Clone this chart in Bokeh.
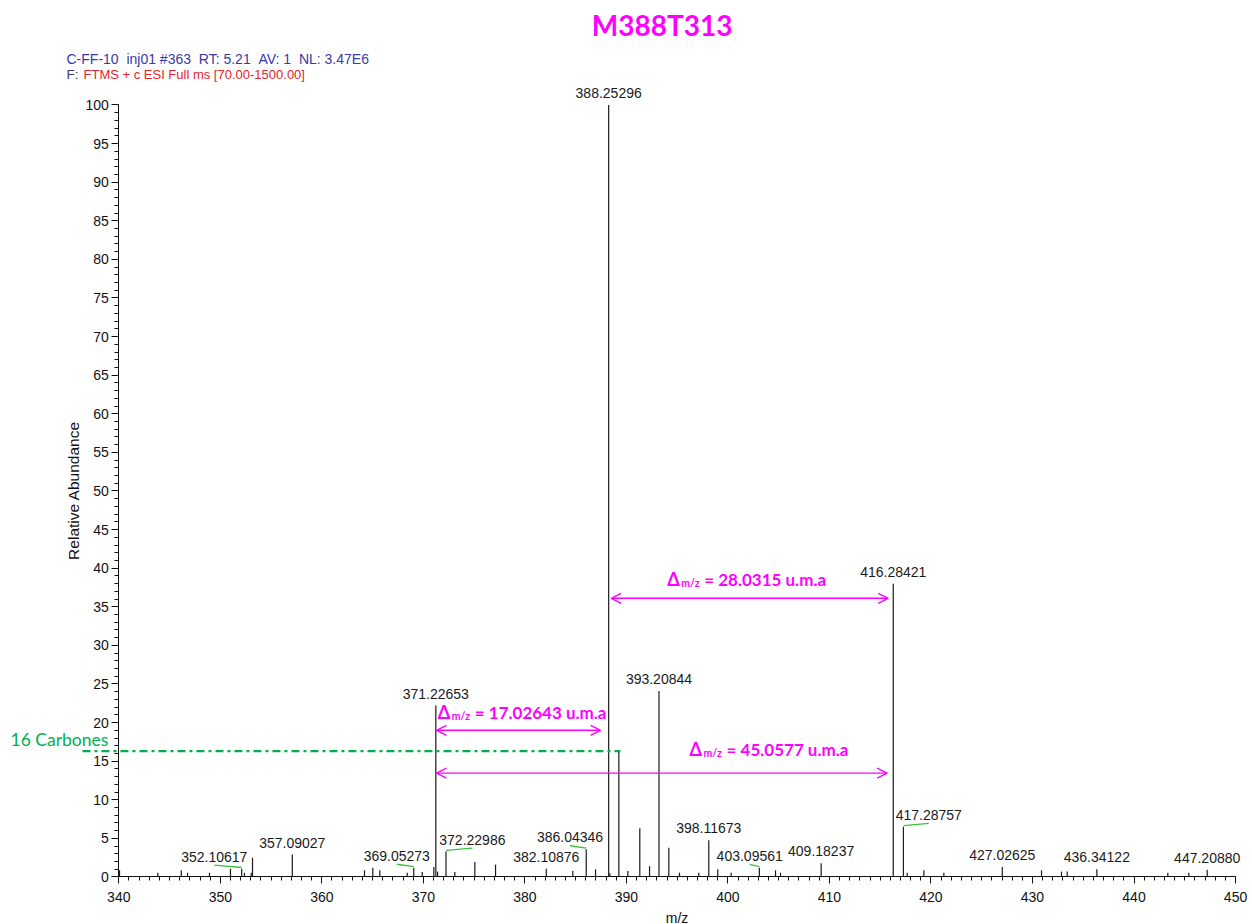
from bokeh.plotting import figure
from bokeh.models import (Range1d, SingleIntervalTicker, Label, LabelSet,
                          ColumnDataSource, Arrow, OpenHead)
from bokeh.core.properties import value
from bokeh.embed import file_html
from bokeh.resources import INLINE

# ---------------- data ----------------
NB2 = "\u00a0\u00a0"
title_text = "M388T313"
header_line1 = "C-FF-10" + NB2 + "inj01 #363" + NB2 + "RT: 5.21" + NB2 + "AV: 1" + NB2 + "NL: 3.47E6"
header_f = "F:"
header_line2 = "FTMS + c ESI Full ms [70.00-1500.00]"
x_label = "m/z"
y_label = "Relative Abundance"
carbon_text = "16 Carbones"

labeled_mz = [352.10617, 357.09027, 369.05273, 371.22653, 372.22986, 382.10876,
              386.04346, 388.25296, 393.20844, 398.11673, 403.09561, 409.18237,
              416.28421, 417.28757, 427.02625, 436.34122, 447.20880]
labeled_int = [1.08, 2.9, 1.2, 22.2, 3.3, 1.08, 3.6, 100.0, 24.1, 4.75, 1.2, 1.77,
               38.0, 6.5, 1.3, 1.0, 0.95]

minor_mz = [340.07, 343.84, 346.15, 346.77, 348.93, 351.0, 352.38, 353.04, 353.17,
            364.2, 365.02, 365.71, 368.41, 369.89, 371.03, 371.4, 373.1, 375.07,
            377.11, 384.72, 386.96, 388.37, 389.25631, 390.14, 391.32, 392.28,
            394.18, 395.23, 397.13, 399.0, 400.32, 404.69, 405.18, 417.66, 419.3,
            421.27, 430.89, 432.86, 433.42, 443.33, 445.4]
minor_int = [0.87, 0.56, 0.87, 0.56, 0.56, 1.08, 0.56, 0.56, 2.5,
             0.87, 1.2, 0.87, 0.56, 0.65, 1.3, 0.7, 0.65, 1.95,
             1.6, 0.78, 1.0, 0.5, 16.3, 0.78, 6.3, 1.4,
             3.8, 0.56, 0.56, 1.0, 0.56, 0.87, 0.56, 0.56, 0.87,
             0.56, 0.87, 0.7, 0.7, 0.56, 0.56]

delta_from = [388.25296, 371.22653, 371.22653]
delta_to = [416.28421, 388.25296, 416.28421]
delta_text = ["28.0315", "17.02643", "45.0577"]
carbon_peak = 389.25631
carbon_level = 16.3

x_axis_span = (340, 450)
y_axis_span = (0, 100)

# ---------------- layout / style ----------------
label_shift = [-2.7, 0, -1.67, 0, 2.6, 0, -1.6, 0, 0, 0, -0.95, 0, 0, 2.5, 0, 0, 0]
arrow_y = [36.1, 19.0, 13.45]
arrow_gap_start = [0.25, 0.07, 0.07]
arrow_gap_end = [0.5, 0.8, 0.6]
dtext_x = [394.02, 371.42, 396.22]
dtext_y = [38.55, 21.35, 16.55]
carbon_line_start = 336.42

W, H = 1252, 924
FONT = "Liberation Sans"
MAG = "#ff00ff"
GREEN = "#00b050"

# frame covers the whole canvas; axes are pinned at m/z 340 and intensity 0
p = figure(width=W, height=H,
           x_range=Range1d(328.347, 451.672), y_range=Range1d(-6.153, 113.536),
           output_backend="svg", toolbar_location=None,
           min_border_left=0, min_border_top=0, min_border_right=0, min_border_bottom=0)
p.outline_line_color = None
p.grid.visible = False
p.background_fill_color = "white"
p.border_fill_color = "white"

p.xaxis.fixed_location = y_axis_span[0]
p.yaxis.fixed_location = x_axis_span[0]
p.xaxis.bounds = x_axis_span
p.yaxis.bounds = y_axis_span
p.xaxis.ticker = SingleIntervalTicker(interval=10, num_minor_ticks=10)
p.yaxis.ticker = SingleIntervalTicker(interval=5, num_minor_ticks=5)
for ax in (p.xaxis, p.yaxis):
    ax.axis_line_color = "#111111"
    ax.major_tick_line_color = "#111111"
    ax.minor_tick_line_color = "#111111"
    ax.major_tick_in = 0
    ax.minor_tick_in = 0
    ax.major_tick_out = 7
    ax.minor_tick_out = 4
    ax.major_label_text_font = FONT
    ax.major_label_text_font_size = "14px"
    ax.major_label_text_color = "#111111"
    ax.axis_label_text_font = FONT
    ax.axis_label_text_font_style = "normal"
    ax.axis_label_text_color = "#111111"
p.xaxis.major_label_standoff = 8
p.yaxis.major_label_standoff = 3
p.xaxis.axis_label = x_label
p.xaxis.axis_label_text_font_size = "14px"
p.xaxis.axis_label_standoff = 5
p.yaxis.axis_label = y_label
p.yaxis.axis_label_text_font_size = "15.5px"
p.yaxis.axis_label_standoff = 0

# peaks
p.segment(x0=minor_mz, y0=[0] * len(minor_mz), x1=minor_mz, y1=minor_int,
          line_color="#1a1a1a", line_width=1.2)
p.segment(x0=labeled_mz, y0=[0] * len(labeled_mz), x1=labeled_mz, y1=labeled_int,
          line_color="#1a1a1a", line_width=1.2)

# connectors for displaced labels
cx0, cy0, cx1, cy1 = [], [], [], []
for mz, h, s in zip(labeled_mz, labeled_int, label_shift):
    if s != 0:
        cx0.append(mz); cy0.append(h + 0.15)
        cx1.append(mz + s); cy1.append(h + 0.45)
p.segment(x0=cx0, y0=cy0, x1=cx1, y1=cy1, line_color="#3cc03c", line_width=1.3)

src = ColumnDataSource(dict(
    x=[m + s for m, s in zip(labeled_mz, label_shift)],
    y=labeled_int,
    t=[f"{m:.5f}" for m in labeled_mz],
))
p.add_layout(LabelSet(x="x", y="y", text="t", source=src, y_offset=7,
                      text_align="center", text_baseline="alphabetic",
                      text_font=value(FONT), text_font_size=value("14px"),
                      text_color="#1a1a1a"))

# green 16 carbones line
p.segment(x0=[carbon_line_start], y0=[carbon_level], x1=[carbon_peak + 0.15],
          y1=[carbon_level], line_color=GREEN, line_width=2.2, line_dash="8 4 3 4")
p.add_layout(Label(x=10, y=185, x_units="screen", y_units="screen",
                   text=carbon_text, text_font="Lato", text_font_size="17.5px",
                   text_color=GREEN, text_baseline="alphabetic"))

# delta arrows & texts
for a, b, yy, g0, g1 in zip(delta_from, delta_to, arrow_y, arrow_gap_start, arrow_gap_end):
    p.add_layout(Arrow(start=OpenHead(size=10, line_color=MAG, line_width=1.4),
                       end=OpenHead(size=10, line_color=MAG, line_width=1.4),
                       x_start=a + g0, y_start=yy, x_end=b - g1, y_end=yy,
                       line_color=MAG, line_width=1.4))
for tx, ty, val in zip(dtext_x, dtext_y, delta_text):
    p.add_layout(Label(x=tx, y=ty, text="\u0394", text_font="Lato",
                       text_font_style="bold", text_font_size="18px",
                       text_color=MAG, text_baseline="alphabetic"))
    p.add_layout(Label(x=tx, y=ty, x_offset=14, y_offset=-4, text="m/z",
                       text_font="Lato", text_font_style="bold",
                       text_font_size="10.5px", text_color=MAG,
                       text_baseline="alphabetic"))
    p.add_layout(Label(x=tx, y=ty, x_offset=37, text=f"= {val} u.m.a",
                       text_font="Lato", text_font_style="bold",
                       text_font_size="17px", text_color=MAG,
                       text_baseline="alphabetic"))

# title & header
p.add_layout(Label(x=661.7, y=899.5, x_units="screen", y_units="screen",
                   text=title_text, text_font="Lato", text_font_style="bold",
                   text_font_size="28px", text_color=MAG, text_align="center",
                   text_baseline="alphabetic"))
p.add_layout(Label(x=66, y=866, x_units="screen", y_units="screen",
                   text=header_line1, text_font=FONT, text_font_size="14px",
                   text_color="#3a3aa6", text_baseline="alphabetic"))
p.add_layout(Label(x=66, y=850.5, x_units="screen", y_units="screen",
                   text=header_f, text_font=FONT, text_font_size="13.5px",
                   text_color="#3a3a60", text_baseline="alphabetic"))
p.add_layout(Label(x=83, y=850.5, x_units="screen", y_units="screen",
                   text=header_line2, text_font=FONT, text_font_size="13px",
                   text_color="#e3242b", text_baseline="alphabetic"))

open("out.html", "w").write(file_html(p, INLINE))
